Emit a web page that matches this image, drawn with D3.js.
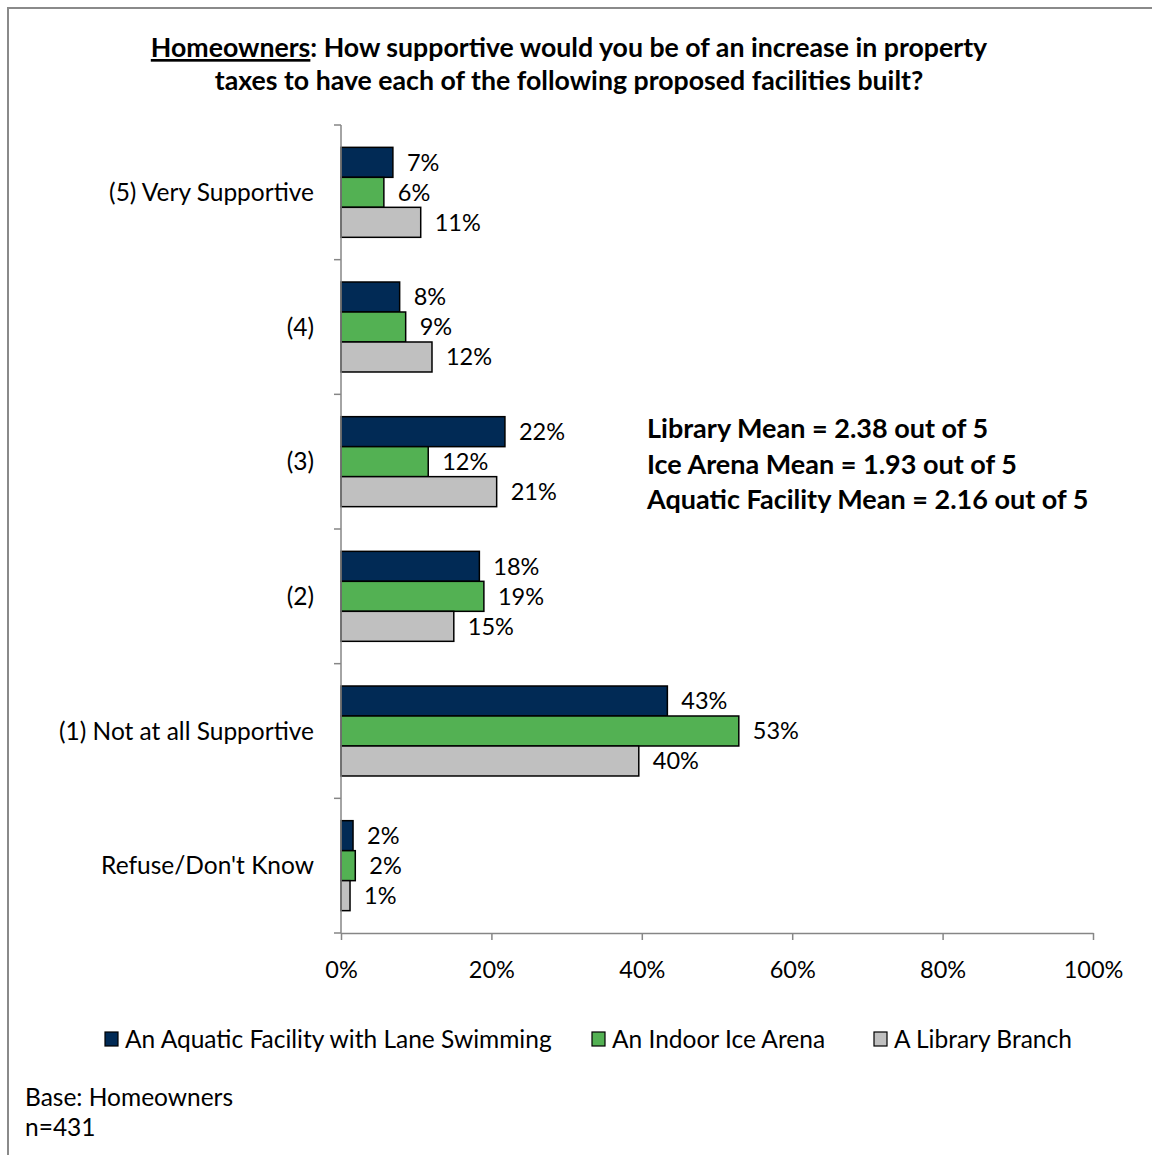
<!DOCTYPE html>
<html>
<head>
<meta charset="utf-8">
<script src="https://cdn.jsdelivr.net/npm/d3@7"></script>
<style>
  html, body { margin: 0; padding: 0; background: #fff; }
  svg { display: block; }
  text { font-family: Lato, "Open Sans", sans-serif; fill: #000; }
</style>
</head>
<body>
<svg id="chart" width="1152" height="1155"></svg>
<script>
// Response categories, top to bottom
const categories = ["(5) Very Supportive", "(4)", "(3)", "(2)", "(1) Not at all Supportive", "Refuse/Don't Know"];

// Facility series (share of homeowners)
const seriesNames = ["An Aquatic Facility with Lane Swimming", "An Indoor Ice Arena", "A Library Branch"];
const aquaticValues = [0.069, 0.078, 0.218, 0.184, 0.434, 0.016];
const iceArenaValues = [0.057, 0.086, 0.116, 0.190, 0.529, 0.019];
const libraryValues = [0.106, 0.121, 0.207, 0.150, 0.396, 0.012];
const seriesColors = ["#012A55", "#53B153", "#C0C0C0"];

const xTicks = [0, 0.2, 0.4, 0.6, 0.8, 1.0];

const titleLines = [
  ["Homeowners", ": How supportive would you be of an increase in property"],
  ["", "taxes to have each of the following proposed facilities built?"]
];
const meanLines = [
  "Library Mean = 2.38 out of 5",
  "Ice Arena Mean = 1.93 out of 5",
  "Aquatic Facility Mean = 2.16 out of 5"
];
const footnotes = ["Base: Homeowners", "n=431"];

const seriesValues = [aquaticValues, iceArenaValues, libraryValues];

const FONT = "Lato, 'Open Sans', sans-serif";
const WORD_SIZE = 24.5;
const NUM_SIZE = 23.5;

const svg = d3.select("#chart");

// Outer frame (left and top edges)
svg.append("path")
  .attr("d", "M8,1155 V8 H1152")
  .attr("fill", "none")
  .attr("stroke", "#8a8a8a")
  .attr("stroke-width", 2);

// Title
const title = svg.append("text")
  .attr("text-anchor", "middle")
  .attr("font-weight", "bold")
  .attr("font-size", 26.7);
titleLines.forEach((parts, i) => {
  const line = title.append("tspan")
    .attr("x", 569)
    .attr("y", 57 + i * 33);
  if (parts[0]) {
    line.append("tspan").attr("text-decoration", "underline").text(parts[0]);
  }
  line.append("tspan").text(parts[1]);
});

// Scales
const x = d3.scaleLinear().domain([0, 1]).range([341, 1093]);
const y = d3.scaleBand().domain(categories).range([125, 933]).paddingInner(0).paddingOuter(0);
const ySub = d3.scaleBand().domain(d3.range(seriesNames.length))
  .range([0, y.bandwidth()]).paddingInner(0).paddingOuter(0.745);

const fmt = d3.format(".0%");

// Bars and value labels
const groups = svg.append("g").selectAll("g")
  .data(categories)
  .join("g")
  .attr("transform", d => `translate(0,${y(d)})`);

groups.each(function (cat, ci) {
  const g = d3.select(this);
  const rows = seriesValues.map((vals, si) => ({ si, v: vals[ci] }));
  g.selectAll("rect")
    .data(rows)
    .join("rect")
    .attr("x", x(0))
    .attr("y", d => ySub(d.si))
    .attr("width", d => x(d.v) - x(0))
    .attr("height", ySub.bandwidth())
    .attr("fill", d => seriesColors[d.si])
    .attr("stroke", "#000")
    .attr("stroke-width", 1.5);
  g.selectAll("text.val")
    .data(rows)
    .join("text")
    .attr("class", "val")
    .attr("x", d => x(d.v) + 14)
    .attr("y", d => ySub(d.si) + ySub.bandwidth() / 2)
    .attr("dy", "0.35em")
    .attr("font-size", NUM_SIZE)
    .text(d => fmt(d.v));
});

// Y axis
const yAxisG = svg.append("g");
yAxisG.append("line")
  .attr("x1", x(0)).attr("x2", x(0))
  .attr("y1", 125).attr("y2", 933)
  .attr("stroke", "#868686").attr("stroke-width", 1.5);
const boundaries = categories.map(c => y(c)).concat([y.range()[1]]);
yAxisG.selectAll("line.tick")
  .data(boundaries)
  .join("line")
  .attr("class", "tick")
  .attr("x1", x(0) - 7).attr("x2", x(0))
  .attr("y1", d => d).attr("y2", d => d)
  .attr("stroke", "#868686").attr("stroke-width", 1.5);
yAxisG.selectAll("text")
  .data(categories)
  .join("text")
  .attr("x", 314)
  .attr("y", d => y(d) + y.bandwidth() / 2)
  .attr("dy", "0.35em")
  .attr("text-anchor", "end")
  .attr("font-size", WORD_SIZE)
  .text(d => d);

// X axis
const xAxis = d3.axisBottom(x).tickValues(xTicks).tickFormat(fmt).tickSize(7).tickSizeOuter(0);
const xAxisG = svg.append("g")
  .attr("transform", "translate(0,933)")
  .call(xAxis);
xAxisG.select(".domain").attr("stroke", "#868686").attr("stroke-width", 1.5);
xAxisG.selectAll(".tick line").attr("stroke", "#868686").attr("stroke-width", 1.5);
xAxisG.selectAll(".tick text")
  .attr("font-family", FONT)
  .attr("font-size", NUM_SIZE)
  .attr("fill", "#000")
  .attr("y", 37)
  .attr("dy", "0.35em");

// Mean annotations
svg.append("g").selectAll("text")
  .data(meanLines)
  .join("text")
  .attr("x", 647)
  .attr("y", (d, i) => 429 + i * 35.5)
  .attr("dy", "0.35em")
  .attr("font-weight", "bold")
  .attr("font-size", 27)
  .text(d => d);

// Legend
const legendX = [105, 592, 874];
const legend = svg.append("g").selectAll("g")
  .data(seriesNames)
  .join("g")
  .attr("transform", (d, i) => `translate(${legendX[i]},1039)`);
legend.append("rect")
  .attr("x", 0).attr("y", -7)
  .attr("width", 13).attr("height", 14)
  .attr("fill", (d, i) => seriesColors[i])
  .attr("stroke", "#000")
  .attr("stroke-width", 1.2);
legend.append("text")
  .attr("x", 20)
  .attr("dy", "0.35em")
  .attr("font-size", WORD_SIZE)
  .text(d => d);

// Footnotes
svg.append("g").selectAll("text")
  .data(footnotes)
  .join("text")
  .attr("x", 25)
  .attr("y", (d, i) => 1097 + i * 30)
  .attr("dy", "0.35em")
  .attr("font-size", WORD_SIZE)
  .text(d => d);
</script>
</body>
</html>
